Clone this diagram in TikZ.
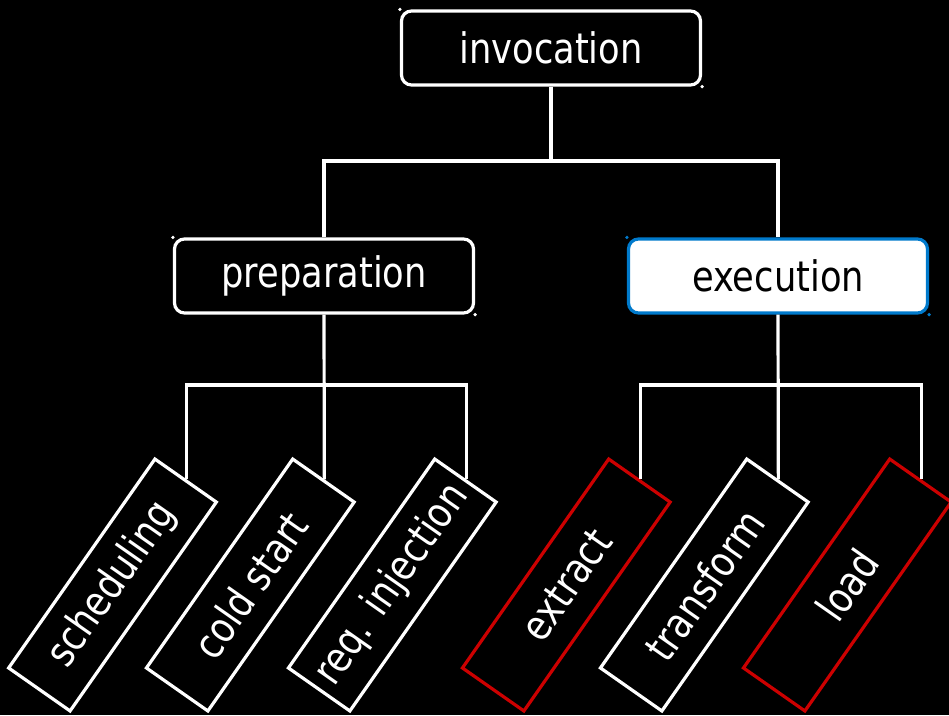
\documentclass[tikz,border=0pt]{standalone}
\usepackage{fontspec}
\setmainfont[FakeStretch=0.84]{DejaVu Sans}
\definecolor{execblue}{RGB}{0,122,204}
\definecolor{leafred}{RGB}{204,0,0}
\begin{document}
\begin{tikzpicture}[x=1pt,y=-1pt,
  every node/.style={font=\fontsize{42}{50}\selectfont},
  conn/.style={draw=white,line width=3.2pt},
  mainbox/.style={draw=white,line width=3.2pt,rounded corners=10pt,
    minimum width=299pt,minimum height=74pt,inner sep=0pt,text=white},
  execbox/.style={mainbox,draw=execblue,fill=white,text=black},
  leafbox/.style={draw=white,line width=3.2pt,rotate=55,
    minimum width=255pt,minimum height=75pt,inner sep=0pt,text=white},
  redleaf/.style={leafbox,draw=leafred},
  cornerdot/.style={radius=1.8pt}
]
\fill[black] (0,0) rectangle (949,715);
\useasboundingbox (0,0) rectangle (949,715);

% top levels
\node[mainbox] (inv) at (551,48) {invocation};
\node[mainbox] (prep) at (324,276) {preparation};
\node[execbox] (exec) at (778,276) {execution};

% corner marks of the rounded boxes
\fill[white] (inv.north west) circle[cornerdot];
\fill[white] (inv.south east) circle[cornerdot];
\fill[white] (prep.north west) circle[cornerdot];
\fill[white] (prep.south east) circle[cornerdot];
\fill[execblue] (exec.north west) circle[cornerdot];
\fill[execblue] (exec.south east) circle[cornerdot];

% leaves: east anchors sit on the branch lines
\node[leafbox] (sched) at (112.5,585) {scheduling};
\node[leafbox] (cold) at (250.3,585) {cold start};
\node[leafbox] (inj) at (392.3,585) {req. injection};
\node[redleaf] (extract) at (566.3,585) {extract};
\node[leafbox] (transform) at (704.3,585) {transform};
\node[redleaf] (load) at (847.3,585) {load};

% branch junctions
\coordinate (j1) at (551,161);
\coordinate (j2) at (324,385);
\coordinate (j3) at (778,385);

% connectors
\draw[conn] (inv.south) -- (j1);
\draw[conn] (prep.north) |- (j1) -| (exec.north);
\draw[conn] (prep.south) -- (cold.east);
\draw[conn] (sched.east) |- (j2) -| (inj.east);
\draw[conn] (exec.south) -- (transform.east);
\draw[conn] (extract.east) |- (j3) -| (load.east);
\end{tikzpicture}
\end{document}
